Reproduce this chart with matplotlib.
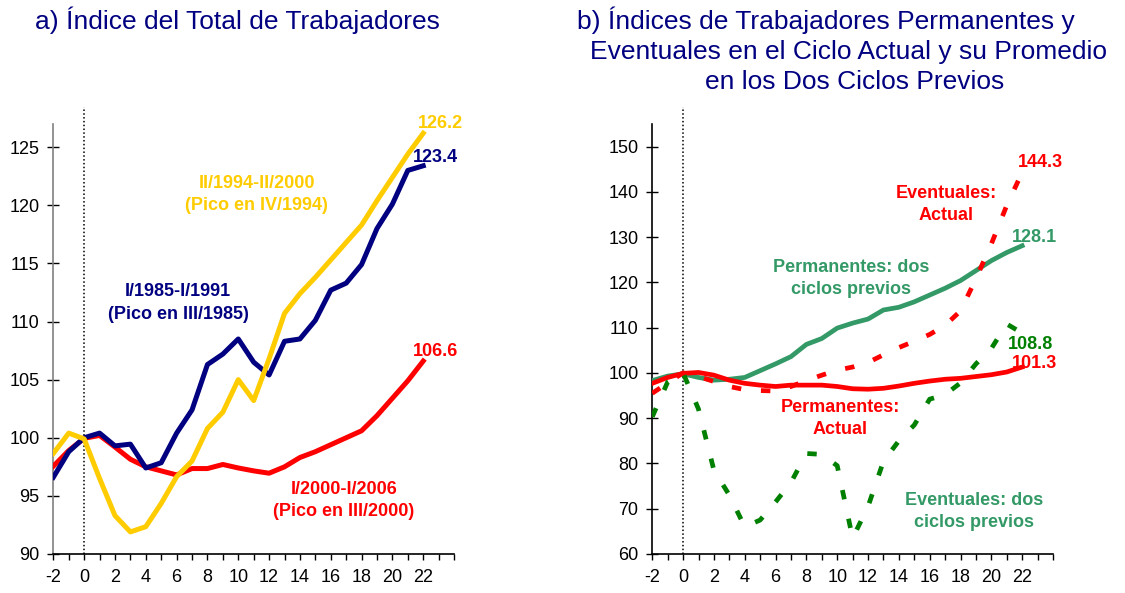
import matplotlib.pyplot as plt
from matplotlib.ticker import MultipleLocator

plt.rcParams['font.family'] = ['Liberation Sans', 'DejaVu Sans']
plt.rcParams['axes.unicode_minus'] = False

# quarters relative to the peak
quarters = list(range(-2, 23))

# a) total workers index, by cycle
ciclo_8591 = [96.6, 98.8, 100.0, 100.4, 99.3, 99.45, 97.4, 97.85, 100.4, 102.4, 106.3, 107.2, 108.5,
              106.5, 105.4, 108.3, 108.5, 110.1, 112.7, 113.3, 114.9, 118.0, 120.1, 123.0, 123.4]
ciclo_9400 = [98.65, 100.4, 99.9, 96.5, 93.3, 91.9, 92.35, 94.35, 96.65, 98.0, 100.8, 102.2, 105.0,
              103.2, 106.8, 110.7, 112.4, 113.8, 115.3, 116.8, 118.3, 120.4, 122.4, 124.4, 126.2]
ciclo_0006 = [97.55, 98.9, 99.95, 100.2, 99.2, 98.15, 97.5, 97.15, 96.8, 97.35, 97.35, 97.7, 97.4,
              97.15, 96.95, 97.5, 98.3, 98.8, 99.4, 100.0, 100.6, 101.9, 103.4, 104.9, 106.6]

# b) permanent / temporary workers
perm_previos = [98.3, 99.3, 99.8, 99.0, 98.4, 98.6, 99.0, 100.5, 102.0, 103.6, 106.3, 107.6, 109.9,
                111.0, 111.9, 113.9, 114.5, 115.7, 117.2, 118.7, 120.4, 122.6, 124.8, 126.6, 128.1]
perm_actual = [97.7, 99.0, 99.9, 100.1, 99.5, 98.4, 97.7, 97.3, 97.0, 97.3, 97.3, 97.3, 97.0,
               96.5, 96.4, 96.6, 97.1, 97.7, 98.2, 98.6, 98.8, 99.2, 99.6, 100.2, 101.3]
even_actual = [95.5, 97.8, 100.0, 99.2, 98.1, 97.0, 96.3, 96.1, 96.0, 97.0, 98.3, 99.5, 100.6,
               101.3, 102.3, 104.0, 105.6, 107.0, 108.5, 110.5, 113.7, 120.8, 128.5, 137.0, 144.3]
even_previos = [90.3, 98.0, 100.0, 92.0, 78.5, 73.0, 66.0, 67.5, 71.5, 75.8, 82.2, 82.0, 79.5,
                63.5, 70.5, 80.5, 85.0, 88.5, 94.2, 95.2, 97.8, 102.0, 105.4, 110.8, 108.8]

navy = '#000080'
yellow = '#FFCC00'
red = '#FF0000'
seagreen = '#339966'
dkgreen = '#008000'
dash = (0, (2.0, 4.2))

fig = plt.figure(figsize=(11.25, 5.93), dpi=100)
ax1 = fig.add_axes([0.0474, 0.0658, 0.3562, 0.7252])
ax2 = fig.add_axes([0.5798, 0.0658, 0.3562, 0.7252])


def style_axis(ax, ylo, yhi, ystep, spine_col):
    ax.set_xlim(-2, 24)
    ax.set_ylim(ylo, yhi)
    ax.spines['top'].set_visible(False)
    ax.spines['right'].set_visible(False)
    ax.spines['left'].set_color(spine_col)
    ax.spines['left'].set_linewidth(1.2)
    ax.spines['bottom'].set_linewidth(1.2)
    ax.set_xticks(range(-2, 23, 2))
    ax.xaxis.set_minor_locator(MultipleLocator(1))
    ax.yaxis.set_major_locator(MultipleLocator(ystep))
    ax.tick_params(axis='x', which='both', direction='out', length=4, width=1, pad=7, labelsize=13)
    ax.tick_params(axis='y', direction='inout', length=8, width=1, pad=6, labelsize=13)
    # dotted line at the peak, going a bit above the axes
    top = yhi + (yhi - ylo) * 0.04
    ax.plot([0, 0], [ylo, top], color='black', ls=(0, (1, 1.5)), lw=1.1, clip_on=False, zorder=1)


style_axis(ax1, 90, 127, 5, '#808080')
style_axis(ax2, 60, 155, 10, 'black')

# panel a
ax1.plot(quarters, ciclo_0006, color=red, lw=3.6, zorder=3)
ax1.plot(quarters, ciclo_8591, color=navy, lw=3.6, zorder=4)
ax1.plot(quarters, ciclo_9400, color=yellow, lw=3.6, zorder=5)

lab = dict(fontsize=13, fontweight='bold', ha='center', va='center', linespacing=1.4)
ax1.text(11.2, 120.9, 'II/1994-II/2000\n(Pico en IV/1994)', color=yellow, **lab)
ax1.text(6.1, 111.6, 'I/1985-I/1991\n(Pico en III/1985)', color=navy, **lab)
ax1.text(16.85, 94.6, 'I/2000-I/2006\n(Pico en III/2000)', color=red, **lab)
end = dict(fontsize=13, fontweight='bold', ha='left', va='center')
ax1.text(21.65, 127.0, '126.2', color=yellow, **end)
ax1.text(21.3, 124.1, '123.4', color=navy, **end)
ax1.text(21.3, 107.4, '106.6', color=red, **end)

# panel b
ax2.plot(quarters, perm_previos, color=seagreen, lw=3.4, zorder=3)
ax2.plot(quarters, perm_actual, color=red, lw=3.4, zorder=3)
ax2.plot(quarters, even_actual, color=red, lw=3.4, ls=dash, zorder=4)
ax2.plot(quarters, even_previos, color=dkgreen, lw=3.4, ls=dash, zorder=4)

ax2.text(17.05, 137.2, 'Eventuales:\nActual', color=red, **lab)
ax2.text(10.9, 120.9, 'Permanentes: dos\nciclos previos', color=seagreen, **lab)
ax2.text(10.2, 90.0, 'Permanentes:\nActual', color=red, **lab)
ax2.text(18.9, 69.3, 'Eventuales: dos\nciclos previos', color=seagreen, **lab)
ax2.text(21.7, 146.4, '144.3', color=red, **end)
ax2.text(21.3, 130.0, '128.1', color=seagreen, **end)
ax2.text(21.05, 106.2, '108.8', color=dkgreen, **end)
ax2.text(21.3, 102.0, '101.3', color=red, **end)

# titles
tt = dict(fontsize=19, color=navy, ha='center', va='center')
fig.text(237 / 1125, 1 - 20 / 593, 'a) Índice del Total de Trabajadores', **tt)
fig.text(826 / 1125, 1 - 20 / 593, 'b) Índices de Trabajadores Permanentes y', **tt)
fig.text(849 / 1125, 1 - 52 / 593, 'Eventuales en el Ciclo Actual y su Promedio', **tt)
fig.text(855 / 1125, 1 - 82 / 593, 'en los Dos Ciclos Previos', **tt)

fig.savefig('out.png', dpi=100)
